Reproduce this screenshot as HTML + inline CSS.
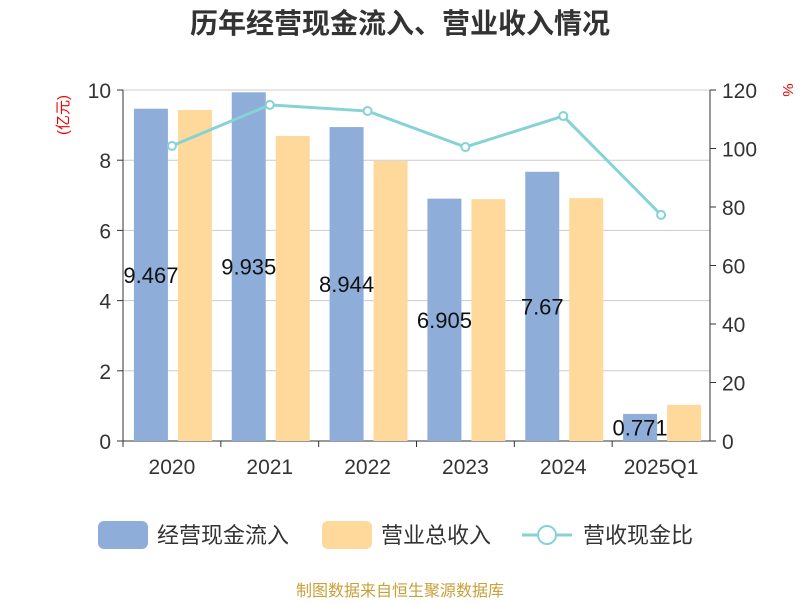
<!DOCTYPE html>
<html><head><meta charset="utf-8"><style>
body{margin:0;background:#fff;font-family:"Liberation Sans","Noto Sans CJK SC",sans-serif;}
</style></head><body>
<svg id="c" width="800" height="600" xmlns="http://www.w3.org/2000/svg" font-family="Liberation Sans, Noto Sans CJK SC, sans-serif">
<text x="400" y="33" text-anchor="middle" font-size="28" font-weight="bold" fill="#333">历年经营现金流入、营业收入情况</text>
<text transform="translate(68,115) rotate(-90)" text-anchor="middle" font-size="15" fill="#e00">(亿元)</text>
<text transform="translate(783,90) rotate(90)" text-anchor="middle" font-size="15" fill="#e00">%</text>
<g id="grid"></g><g id="bars"></g><g id="line"></g><g id="axes"></g>
<g font-size="22" fill="#333">
<rect x="98" y="521" width="50" height="28" rx="6" fill="#8eadd9"/>
<text x="157" y="543">经营现金流入</text>
<rect x="322" y="521" width="50" height="28" rx="6" fill="#fed99b"/>
<text x="381" y="543">营业总收入</text>
<line x1="522" y1="535" x2="572" y2="535" stroke="#86d3d6" stroke-width="3"/>
<circle cx="547" cy="535" r="9" fill="#fff" stroke="#86d3d6" stroke-width="2"/>
<text x="583" y="543">营收现金比</text>
</g>
<text x="400" y="596" text-anchor="middle" font-size="16" fill="#c9a03a">制图数据来自恒生聚源数据库</text>
</svg>
<script>
const categories=["2020","2021","2022","2023","2024","2025Q1"];
const cashInflow=[9.467,9.935,8.944,6.905,7.67,0.771];
const revenue=[9.43,8.69,7.98,6.89,6.92,1.03];
const ratio=[100.9,114.9,112.8,100.5,111.1,77.3];
const leftTicks=[0,2,4,6,8,10];
const rightTicks=[0,20,40,60,80,100,120];
const NS="http://www.w3.org/2000/svg";
const X0=123,X1=710,Y0=441,Y1=90;
const bw=(X1-X0)/categories.length;
const yL=v=>Y0-(v/10)*(Y0-Y1);
const yR=v=>Y0-(v/120)*(Y0-Y1);
const xC=i=>X0+bw*(i+0.5);
function mk(tag,attrs,parent){const e=document.createElementNS(NS,tag);for(const k in attrs)e.setAttribute(k,attrs[k]);document.getElementById(parent).appendChild(e);return e;}
leftTicks.forEach((t,i)=>{
 const g=mk('line',{x1:X0,x2:X1,y1:yL(t),y2:yL(t),stroke:i===0?'#333':'#ccc','stroke-width':1},'grid');
 
 
 const tx=mk('text',{x:X0-12,y:yL(t)+8,'text-anchor':'end','font-size':21,fill:'#333'},'axes');tx.textContent=t;
 
 
 const tk=mk('line',{x1:X0-6,x2:X0,y1:yL(t),y2:yL(t),stroke:'#333'},'axes');
 
 
});
rightTicks.forEach(t=>{
 const tx=mk('text',{x:X1+12,y:yR(t)+8,'font-size':21,fill:'#333'},'axes');tx.textContent=t;
 
 
 const tk=mk('line',{x1:X1,x2:X1+6,y1:yR(t),y2:yR(t),stroke:'#333'},'axes');
 
 
});
let a=mk('line',{x1:X0,x2:X0,y1:Y1,y2:Y0,stroke:'#333'},'axes');


a=mk('line',{x1:X1,x2:X1,y1:Y1,y2:Y0,stroke:'#333'},'axes');


categories.forEach((c,i)=>{
 const tk=mk('line',{x1:X0+bw*i,x2:X0+bw*i,y1:Y0,y2:Y0+6,stroke:'#333'},'axes');
 
 
 const tx=mk('text',{x:xC(i),y:Y0+33,'text-anchor':'middle','font-size':21,fill:'#333'},'axes');tx.textContent=c;
 
 
 const b1=mk('rect',{x:xC(i)-38,y:yL(cashInflow[i]),width:34,height:Y0-yL(cashInflow[i]),fill:'#8eadd9'},'bars');
 
 
 const b2=mk('rect',{x:xC(i)+6,y:yL(revenue[i]),width:34,height:Y0-yL(revenue[i]),fill:'#fed99b'},'bars');
 
 
 const lb=mk('text',{x:xC(i)-21,y:(yL(cashInflow[i])+Y0)/2+8,'text-anchor':'middle','font-size':22,fill:'#111'},'bars');lb.textContent=cashInflow[i];
 
 
});
const pts=ratio.map((v,i)=>xC(i)+','+yR(v)).join(' ');
const pl=mk('polyline',{points:pts,fill:'none',stroke:'#86d3d6','stroke-width':3},'line');


ratio.forEach((v,i)=>{
 const p=mk('circle',{cx:xC(i),cy:yR(v),r:4,fill:'#fff',stroke:'#86d3d6','stroke-width':2},'line');
 
 
});
</script>
</body></html>
